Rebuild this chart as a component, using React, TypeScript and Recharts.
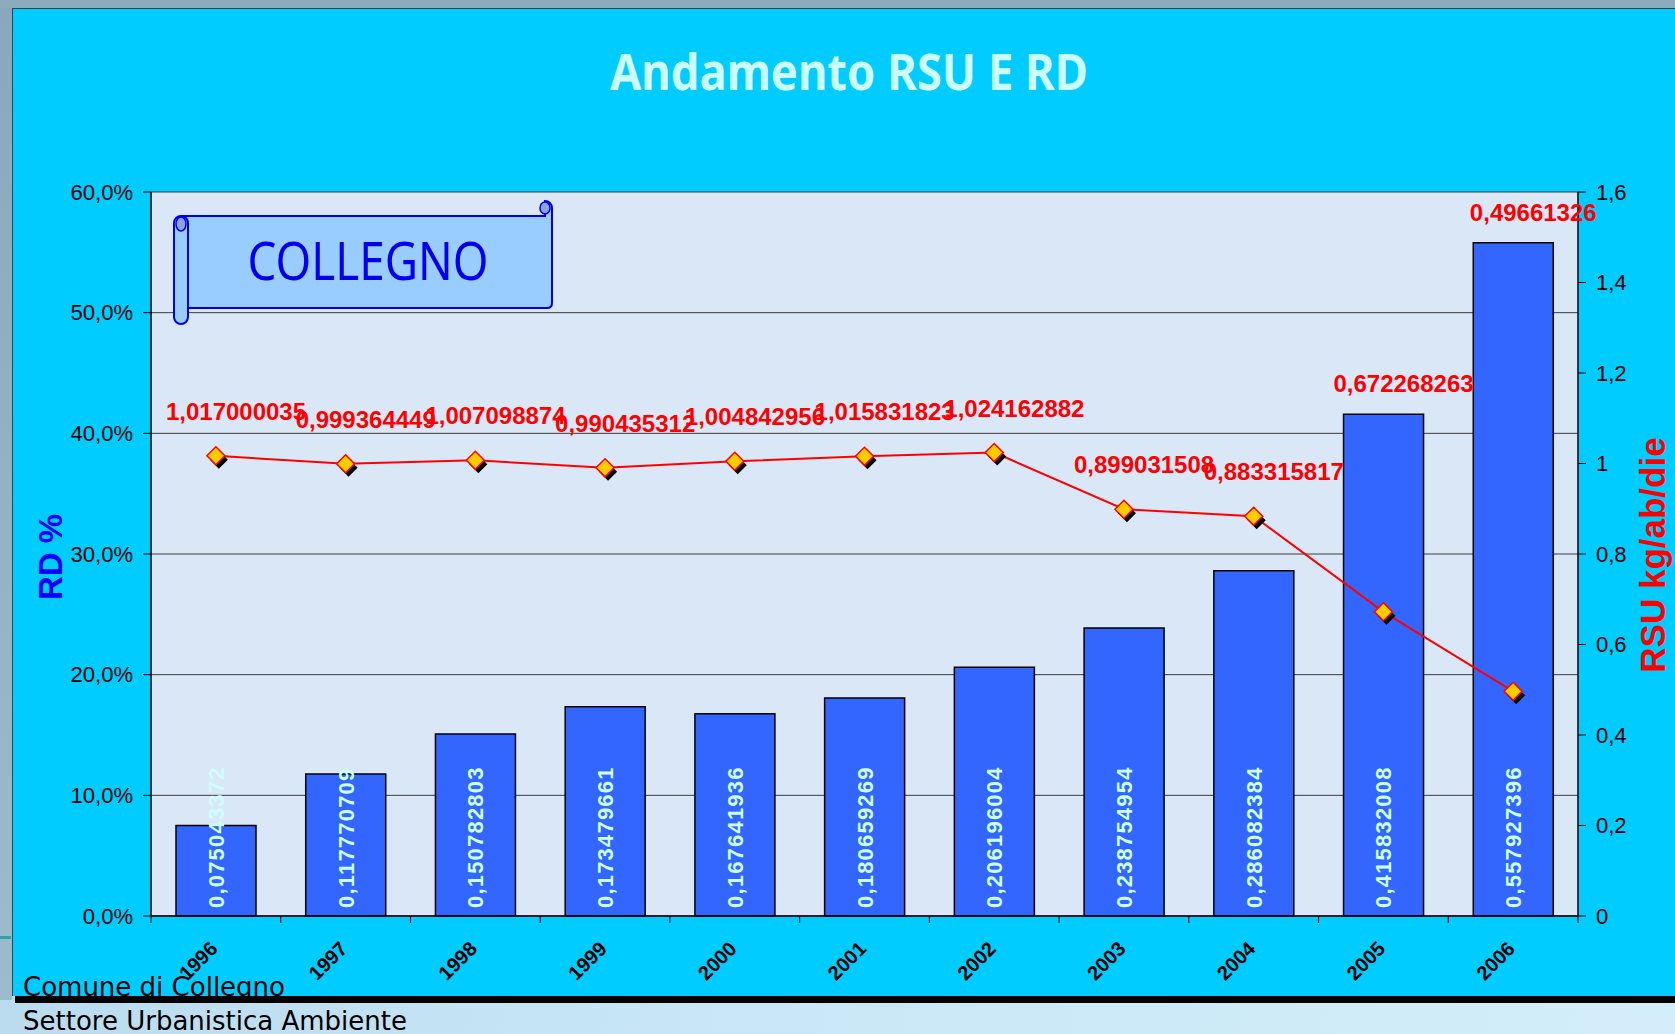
import { Bar, CartesianGrid, ComposedChart, LabelList, Line, XAxis, YAxis } from 'recharts'

const YEARS = ['1996', '1997', '1998', '1999', '2000', '2001', '2002', '2003', '2004', '2005', '2006']
// raccolta differenziata (quota) e RSU kg/ab/die
const RD = [0.075043372, 0.117770709, 0.150782803, 0.173479661, 0.167641936, 0.180659269, 0.206196004, 0.238754954, 0.286082384, 0.415832008, 0.557927396]
const RSU = [1.017000035, 0.999364449, 1.007098874, 0.990435312, 1.004842956, 1.015831823, 1.024162882, 0.899031508, 0.883315817, 0.672268263, 0.49661326]
const RD_TICKS = [0, 0.1, 0.2, 0.3, 0.4, 0.5, 0.6]
const RSU_TICKS = [0, 0.2, 0.4, 0.6, 0.8, 1, 1.2, 1.4, 1.6]

const RD_MAX = 0.6
const RSU_MAX = 1.6

const W = 1675
const H = 1034
const CHART_H = 1000
const PLOT_LEFT = 151
const PLOT_RIGHT = 1578
const PLOT_TOP = 192
const PLOT_BOTTOM = 916
const HALF_BAND = (PLOT_RIGHT - PLOT_LEFT) / YEARS.length / 2

const ARIAL = '"Liberation Sans", Arial, sans-serif'
const NARROW = '"Liberation Sans Narrow", "Arial Narrow", "Liberation Sans", sans-serif'
const COMIC = '"Noto Sans", "DejaVu Sans", sans-serif'
const TAHOMA = '"DejaVu Sans", Verdana, sans-serif'

const comma = (v: number) => String(v).replace('.', ',')

const data = YEARS.map((year, i) => ({ year, rd: RD[i], rsu: RSU[i] }))

function YearTick(props: any) {
  const { x, payload, index } = props
  const ax = x + 3
  const ay = PLOT_BOTTOM + 34
  return (
    <g>
      <line x1={x - HALF_BAND} x2={x - HALF_BAND} y1={PLOT_BOTTOM} y2={PLOT_BOTTOM + 7} stroke="#000" />
      {index === YEARS.length - 1 && (
        <line x1={x + HALF_BAND} x2={x + HALF_BAND} y1={PLOT_BOTTOM} y2={PLOT_BOTTOM + 7} stroke="#000" />
      )}
      <text
        x={ax}
        y={ay}
        transform={`rotate(-45 ${ax} ${ay})`}
        textAnchor="end"
        fontFamily={ARIAL}
        fontWeight="bold"
        fontSize={20}
        fill="#000"
      >
        {payload.value}
      </text>
    </g>
  )
}

function RdLabel(props: any) {
  const { x, y, width, height, value } = props
  const cx = x + width / 2
  const by = y + height - 8
  return (
    <text
      x={cx}
      y={by}
      dy="0.36em"
      transform={`rotate(-90 ${cx} ${by})`}
      textAnchor="start"
      fill="#ccffff"
      fontFamily={ARIAL}
      fontWeight="bold"
      fontSize={22}
      letterSpacing={1.2}
    >
      {comma(value)}
    </text>
  )
}

// etichette RSU: sopra il punto, o sopra la barra se la barra lo copre
function RsuLabel(props: any) {
  const { x, y, width, height, index, value } = props
  const bottom = y + height
  const plotH = height / (RD[index] / RD_MAX)
  const py = bottom - (RSU[index] / RSU_MAX) * plotH
  const ly = y < py ? y - 22 : py - 36
  return (
    <text
      x={x + width / 2 + 20}
      y={ly}
      textAnchor="middle"
      fill="#ff0000"
      fontFamily={ARIAL}
      fontWeight="bold"
      fontSize={24}
    >
      {comma(value)}
    </text>
  )
}

function Diamond(props: any) {
  const { cx, cy, index } = props
  const r = 9
  const pts = (ox: number, oy: number) =>
    `${cx + ox},${cy + oy - r} ${cx + ox + r},${cy + oy} ${cx + ox},${cy + oy + r} ${cx + ox - r},${cy + oy}`
  return (
    <g key={`d-${index}`}>
      <polygon points={pts(3, 4)} fill="#000" />
      <polygon points={pts(0, 0)} fill="#ffcc00" stroke="#ff0000" strokeWidth={1.5} />
    </g>
  )
}

export default function App() {
  return (
    <div
      style={{
        position: 'absolute',
        left: 0,
        top: 0,
        width: W,
        height: H,
        overflow: 'hidden',
        background: 'linear-gradient(100deg, #b7d9ec 0%, #c9e7f6 50%, #d3eefa 100%)',
      }}
    >
      <div style={{ position: 'absolute', left: 0, top: 0, width: 12, height: 1000, background: 'linear-gradient(180deg, #8aa8bb 0%, #9cbccd 100%)' }} />
      <div style={{ position: 'absolute', left: 0, top: 0, width: W, height: 8, background: '#8eabbe' }} />
      <div style={{ position: 'absolute', left: 0, top: 936, width: 11, height: 3, background: '#2aa6a6' }} />
      <div
        style={{
          position: 'absolute',
          left: 12,
          top: 8,
          width: W - 12,
          height: 988,
          background: '#00ccff',
          borderTop: '1px solid #2b4250',
          borderLeft: '1px solid #2b4250',
          boxSizing: 'border-box',
        }}
      />
      <div style={{ position: 'absolute', left: 0, top: 0 }}>
        <ComposedChart width={W} height={CHART_H} data={data} margin={{ top: PLOT_TOP, right: 0, bottom: 0, left: 0 }} barCategoryGap="19%">
          <CartesianGrid yAxisId="left" vertical={false} fill="#dae7f6" stroke="#3c3c3c" fillOpacity={1} />
          <XAxis
            dataKey="year"
            height={CHART_H - PLOT_BOTTOM}
            tickLine={false}
            tickSize={0}
            axisLine={{ stroke: '#000', strokeWidth: 1.5 }}
            interval={0}
            tick={<YearTick />}
          />
          <YAxis
            yAxisId="left"
            width={PLOT_LEFT}
            domain={[0, RD_MAX]}
            ticks={RD_TICKS}
            interval={0}
            tickSize={8}
            tickMargin={10}
            axisLine={{ stroke: '#000', strokeWidth: 1.5 }}
            tickLine={{ stroke: '#000' }}
            tickFormatter={(v: number) => (v * 100).toFixed(1).replace('.', ',') + '%'}
            tick={{ fill: '#000', fontSize: 22, fontFamily: NARROW }}
          />
          <YAxis
            yAxisId="right"
            orientation="right"
            width={W - PLOT_RIGHT}
            domain={[0, RSU_MAX]}
            ticks={RSU_TICKS}
            interval={0}
            tickSize={8}
            tickMargin={10}
            axisLine={{ stroke: '#000', strokeWidth: 1.5 }}
            tickLine={{ stroke: '#000' }}
            tickFormatter={(v: number) => comma(Math.round(v * 10) / 10)}
            tick={{ fill: '#000', fontSize: 22, fontFamily: NARROW }}
          />
          <Bar yAxisId="left" dataKey="rd" fill="#3366ff" stroke="#000" strokeWidth={1.5} barSize={80} isAnimationActive={false}>
            <LabelList dataKey="rd" content={<RdLabel />} />
            <LabelList dataKey="rsu" content={<RsuLabel />} />
          </Bar>
          <Line
            yAxisId="right"
            type="linear"
            dataKey="rsu"
            stroke="#ff0000"
            strokeWidth={2}
            dot={Diamond}
            activeDot={false}
            isAnimationActive={false}
          />
        </ComposedChart>
      </div>
      <svg width={W} height={H} style={{ position: 'absolute', left: 0, top: 0, pointerEvents: 'none' }}>
        <text x={849} y={90} textAnchor="middle" fill="#ccffff" fontFamily={COMIC} fontWeight="bold" fontSize={50} textLength={478} lengthAdjust="spacingAndGlyphs">
          Andamento RSU E RD
        </text>
        <text x={50} y={557} transform="rotate(-90 50 557)" textAnchor="middle" dy="0.36em" fill="#0000ff" fontFamily={ARIAL} fontWeight="bold" fontSize={33}>
          RD %
        </text>
        <text x={1652} y={555} transform="rotate(-90 1652 555)" textAnchor="middle" dy="0.36em" fill="#ff0000" fontFamily={ARIAL} fontWeight="bold" fontSize={35}>
          RSU kg/ab/die
        </text>
        {/* pergamena COLLEGNO */}
        <path d="M181 216 L545 216 L545 201 A7 7 0 0 1 552 208 L552 303 Q552 308 547 308 L188 308 Z" fill="#99ccff" stroke="#0000ee" strokeWidth={2} />
        <rect x={174} y={216} width={14} height={108} rx={7} fill="#99ccff" stroke="#0000ee" strokeWidth={2} />
        <ellipse cx={181} cy={224} rx={5} ry={7} fill="#8aa6d8" stroke="#0000ee" strokeWidth={1.5} />
        <ellipse cx={545} cy={208} rx={5} ry={6} fill="#8aa6d8" stroke="#0000ee" strokeWidth={1.5} />
        <text x={368} y={280} textAnchor="middle" fill="#0000ee" fontFamily={COMIC} fontSize={52} textLength={241} lengthAdjust="spacingAndGlyphs">
          COLLEGNO
        </text>
        <text x={23} y={996} fill="#000" fontFamily={TAHOMA} fontSize={26}>
          Comune di Collegno
        </text>
        <rect x={15} y={996} width={W - 15} height={7} fill="#000" />
        <text x={23} y={1030} fill="#000" fontFamily={TAHOMA} fontSize={26}>
          Settore Urbanistica Ambiente
        </text>
      </svg>
    </div>
  )
}
